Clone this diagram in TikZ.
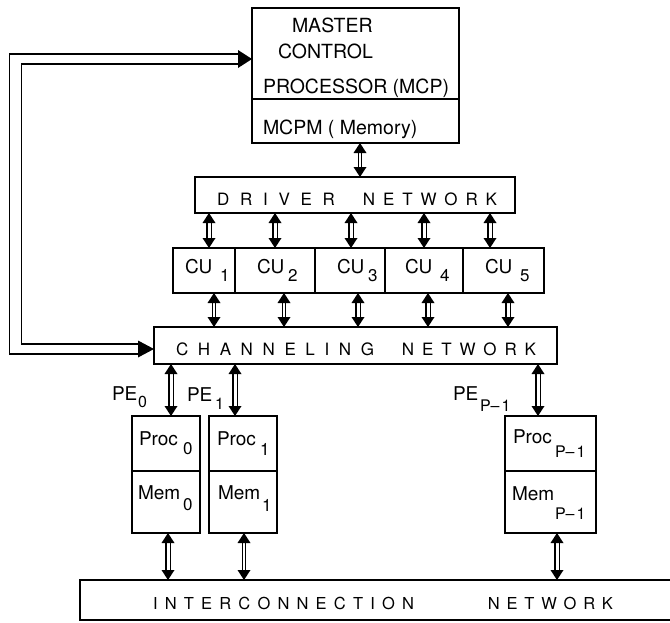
\documentclass[tikz,border=0pt]{standalone}
\usepackage{fontspec}
\setmainfont{TeX Gyre Heros}
\usetikzlibrary{calc}
\newcommand\varr[4][3pt]{%
  \coordinate (vA) at (#2,0 |- #3.south);
  \coordinate (vB) at (#2,0 |- #4.north);
  \draw[line width=1.5pt, double distance=#1] ([yshift=-8pt]vA) -- ([yshift=8pt]vB);
  \fill (vA) -- ++(-6.5pt,-10pt) -- ++(13pt,0pt) -- cycle;
  \fill (vB) -- ++(-6.5pt,10pt) -- ++(13pt,0pt) -- cycle;
}
\newcommand\sub[3]{\raisebox{-#1pt}{\fontsize{#2}{#2}\selectfont #3}}
\begin{document}
\begin{tikzpicture}[x=1pt,y=-1pt,
  box/.style={draw, line width=1.8pt, inner sep=0pt, outer sep=0pt, anchor=north west},
  txt/.style={inner sep=0pt, outer sep=0pt, anchor=base west},
  big/.style={font=\fontsize{19.5}{20}\selectfont},
  mid/.style={font=\fontsize{19}{20}\selectfont},
  sml/.style={font=\fontsize{17}{18}\selectfont}]
\useasboundingbox (0,0) rectangle (670,622);
\clip (0,0) rectangle (670,622);
% boxes
\node[box, minimum width=207pt, minimum height=91pt] (mcp) at (252,8) {};
\node[box, minimum width=207pt, minimum height=44pt] (mcpm) at (252,99) {};
\node[box, minimum width=320pt, minimum height=36pt] (drv) at (195,177) {};
\node[box, minimum width=62pt, minimum height=45pt] (cu1) at (173,248) {};
\node[box, minimum width=80pt, minimum height=45pt] (cu2) at (235,248) {};
\node[box, minimum width=70pt, minimum height=45pt] (cu3) at (315,248) {};
\node[box, minimum width=78pt, minimum height=45pt] (cu4) at (385,248) {};
\node[box, minimum width=81pt, minimum height=45pt] (cu5) at (463,248) {};
\node[box, minimum width=403pt, minimum height=37pt] (chan) at (154,327) {};
\node[box, minimum width=68pt, minimum height=55pt] (p0) at (132,416) {};
\node[box, minimum width=68pt, minimum height=62pt] (m0) at (132,471) {};
\node[box, minimum width=68pt, minimum height=55pt] (p1) at (209,416) {};
\node[box, minimum width=68pt, minimum height=62pt] (m1) at (209,471) {};
\node[box, minimum width=91pt, minimum height=55pt] (pp) at (505,416) {};
\node[box, minimum width=91pt, minimum height=62pt] (mp) at (505,471) {};
\node[box, minimum width=620pt, minimum height=40pt] (ic) at (80,580) {};
% texts
\node[txt,big] (tmaster) at (292,32) {MASTER};
\node[txt,big] (tcontrol) at (278,58) {CONTROL};
\node[txt,big] (tproc) at (263,93) {PROCESSOR (MCP)};
\node[txt,big] (tmcpm) at (263,134) {MCPM ( Memory)};
\node[txt,sml] (tdrv) at (217,205) {\makebox[118pt][s]{D\hfill R\hfill I\hfill V\hfill E\hfill R}\hspace{28pt}\makebox[134pt][s]{N\hfill E\hfill T\hfill W\hfill O\hfill R\hfill K}};
\node[txt,sml] (tchan) at (176,355) {\makebox[198pt][s]{C\hfill H\hfill A\hfill N\hfill N\hfill E\hfill L\hfill I\hfill N\hfill G}\hspace{28pt}\makebox[134pt][s]{N\hfill E\hfill T\hfill W\hfill O\hfill R\hfill K}};
\node[txt,font=\fontsize{16.5}{18}\selectfont] (tic) at (153,609) {\makebox[261pt][s]{I\hfill N\hfill T\hfill E\hfill R\hfill C\hfill O\hfill N\hfill N\hfill E\hfill C\hfill T\hfill I\hfill O\hfill N}\hspace{74pt}\makebox[125pt][s]{N\hfill E\hfill T\hfill W\hfill O\hfill R\hfill K}};
\node[txt,mid] (tcu1) at (185,273) {\makebox[35pt][l]{CU}\sub{8}{17}{1}};
\node[txt,mid] (tcu2) at (257,273) {\makebox[31pt][l]{CU}\sub{8}{17}{2}};
\node[txt,mid] (tcu3) at (337,273) {\makebox[31pt][l]{CU}\sub{8}{17}{3}};
\node[txt,mid] (tcu4) at (405,273) {\makebox[35pt][l]{CU}\sub{8}{17}{4}};
\node[txt,mid] (tcu5) at (485,273) {\makebox[35pt][l]{CU}\sub{8}{17}{5}};
\node[txt,mid] (tpe0) at (112,400) {\makebox[26pt][l]{PE}\sub{7}{16}{0}};
\node[txt,mid] (tpe1) at (187,401) {\makebox[28pt][l]{PE}\sub{8}{16}{1}};
\node[txt,mid] (tpep) at (453,400) {\makebox[27pt][l]{PE}\sub{11}{16}{P–\kern2pt 1}};
\node[txt,mid] (tproc0) at (139,445) {\makebox[44pt][l]{Proc}\sub{9}{17}{0}};
\node[txt,mid] (tmem0) at (138,499) {\makebox[45pt][l]{Mem}\sub{11}{17}{0}};
\node[txt,mid] (tproc1) at (217,445) {\makebox[43pt][l]{Proc}\sub{10}{17}{1}};
\node[txt,mid] (tmem1) at (218,499) {\makebox[44pt][l]{Mem}\sub{12}{17}{1}};
\node[txt,mid] (tprocp) at (513,443) {\makebox[42pt][l]{Proc}\sub{14}{16}{P–\kern2pt 1}};
\node[txt,mid] (tmemp) at (512,500) {\makebox[43pt][l]{Mem}\sub{19}{16}{P–\kern2pt 1}};
% vertical two-way connectors
\varr[1.5pt]{360}{mcpm}{drv}
\varr{209}{drv}{cu1}
\varr{275}{drv}{cu2}
\varr{351}{drv}{cu3}
\varr{424}{drv}{cu4}
\varr{490}{drv}{cu5}
\varr[1.2pt]{214}{cu1}{chan}
\varr[1.5pt]{284}{cu2}{chan}
\varr{358}{cu3}{chan}
\varr{428}{cu4}{chan}
\varr{508}{cu5}{chan}
\varr{171}{chan}{p0}
\varr{235}{chan}{p1}
\varr{538}{chan}{pp}
\varr{168}{m0}{ic}
\varr[1.2pt]{244}{m1}{ic}
\varr{557}{mp}{ic}
% feedback from channeling network to MCP
\coordinate (fbA) at (mcp.west |- 0,59);
\coordinate (fbB) at (chan.west |- 0,349);
\draw[line width=1.8pt, line join=miter]
  ([xshift=-14pt,yshift=5pt]fbA) -| (9.5,200) |- ([xshift=-16pt,yshift=-5pt]fbB);
\draw[line width=1.8pt, line join=miter]
  ([xshift=-14pt,yshift=-5pt]fbA) -| (21.5,200) |- ([xshift=-16pt,yshift=5pt]fbB);
\fill (fbA) -- ++(-14pt,9pt) -- ++(0pt,-18pt) -- cycle;
\fill (fbB) -- ++(-16pt,8.5pt) -- ++(0pt,-17pt) -- cycle;
\end{tikzpicture}
\end{document}
